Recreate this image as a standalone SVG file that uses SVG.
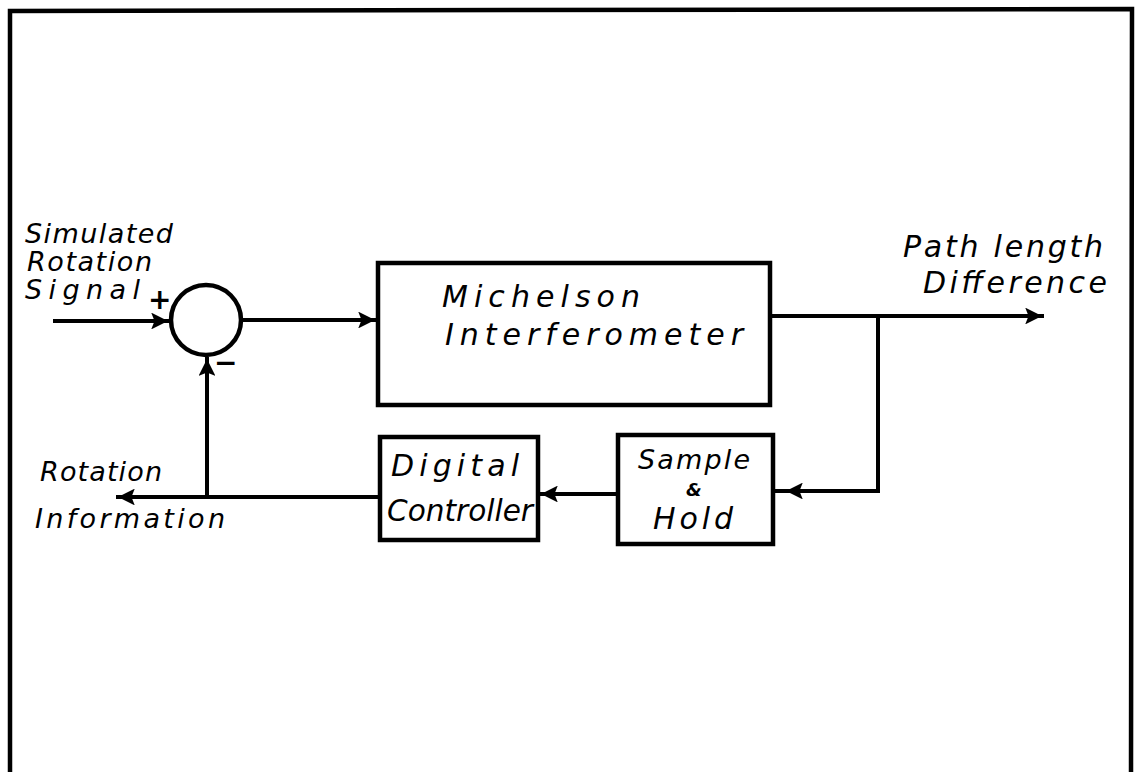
<svg xmlns="http://www.w3.org/2000/svg" width="1135" height="772" viewBox="0 0 1135 772">
<defs>
<style>
.ln{fill:none;stroke:#000;stroke-width:4;stroke-linecap:square}
.bx{fill:#fff;stroke:#000;stroke-width:4.5}
.t{font-family:"DejaVu Sans",sans-serif;font-style:oblique;font-size:30px;fill:#000}
.s{font-size:27px}
.amp{font-size:18px;font-weight:bold}
.sg{font-size:28px;font-weight:bold}
</style>
<marker id="ah" viewBox="0 0 10 10" refX="10" refY="5" markerWidth="6.5" markerHeight="4.2" orient="auto" markerUnits="strokeWidth">
<path d="M0,0 L10,5 L0,10 L2,5 z" fill="#000"/>
</marker>
</defs>
<rect width="1135" height="772" fill="#fff"/>
<path d="M10,780 L10,11 L1132,9 L1131,780" fill="none" stroke="#000" stroke-width="4.5"/>
<g id="connectors">
<path class="ln" d="M55,321 L168,321" marker-end="url(#ah)"/>
<path class="ln" d="M242,320 L375,320" marker-end="url(#ah)"/>
<path class="ln" d="M772,316 L1042,316" marker-end="url(#ah)"/>
<path class="ln" d="M878,316 L878,491 L786,491" marker-end="url(#ah)"/>
<path class="ln" d="M776,491 L790,491"/>
<path class="ln" d="M616,494 L541,494" marker-end="url(#ah)"/>
<path class="ln" d="M378,497 L118,497" marker-end="url(#ah)"/>
<path class="ln" d="M207,497 L207,359" marker-end="url(#ah)"/>
</g>
<g id="summer">
<circle cx="206" cy="320" r="35" fill="#fff" stroke="#000" stroke-width="4.5"/>
<text class="t sg" x="148" y="309">+</text>
<text class="t sg" x="214" y="372">−</text>
</g>
<g id="michelson">
<rect class="bx" x="378" y="263" width="392" height="142"/>
<text class="t" x="442" y="307" textLength="198" lengthAdjust="spacing">Michelson</text>
<text class="t" x="445" y="345" textLength="298" lengthAdjust="spacing">Interferometer</text>
</g>
<g id="digital">
<rect class="bx" x="380" y="437" width="158" height="103"/>
<text class="t" x="391" y="476" textLength="128" lengthAdjust="spacing">Digital</text>
<text class="t" x="387" y="521" textLength="146" lengthAdjust="spacingAndGlyphs">Controller</text>
</g>
<g id="sample">
<rect class="bx" x="618" y="435" width="155" height="109"/>
<text class="t s" x="638" y="469" textLength="112" lengthAdjust="spacing">Sample</text>
<text class="t amp" x="686" y="496">&amp;</text>
<text class="t" x="653" y="529" textLength="80" lengthAdjust="spacing">Hold</text>
</g>
<g id="labels">
<text class="t s" x="25" y="243" textLength="148" lengthAdjust="spacing">Simulated</text>
<text class="t s" x="27" y="271" textLength="125" lengthAdjust="spacing">Rotation</text>
<text class="t s" x="25" y="299" textLength="115" lengthAdjust="spacing">Signal</text>
<text class="t s" x="40" y="481" textLength="122" lengthAdjust="spacing">Rotation</text>
<text class="t s" x="35" y="528" textLength="190" lengthAdjust="spacing">Information</text>
<text class="t" x="903" y="257" textLength="200" lengthAdjust="spacing">Path length</text>
<text class="t" x="923" y="293" textLength="184" lengthAdjust="spacing">Difference</text>
</g>
</svg>
